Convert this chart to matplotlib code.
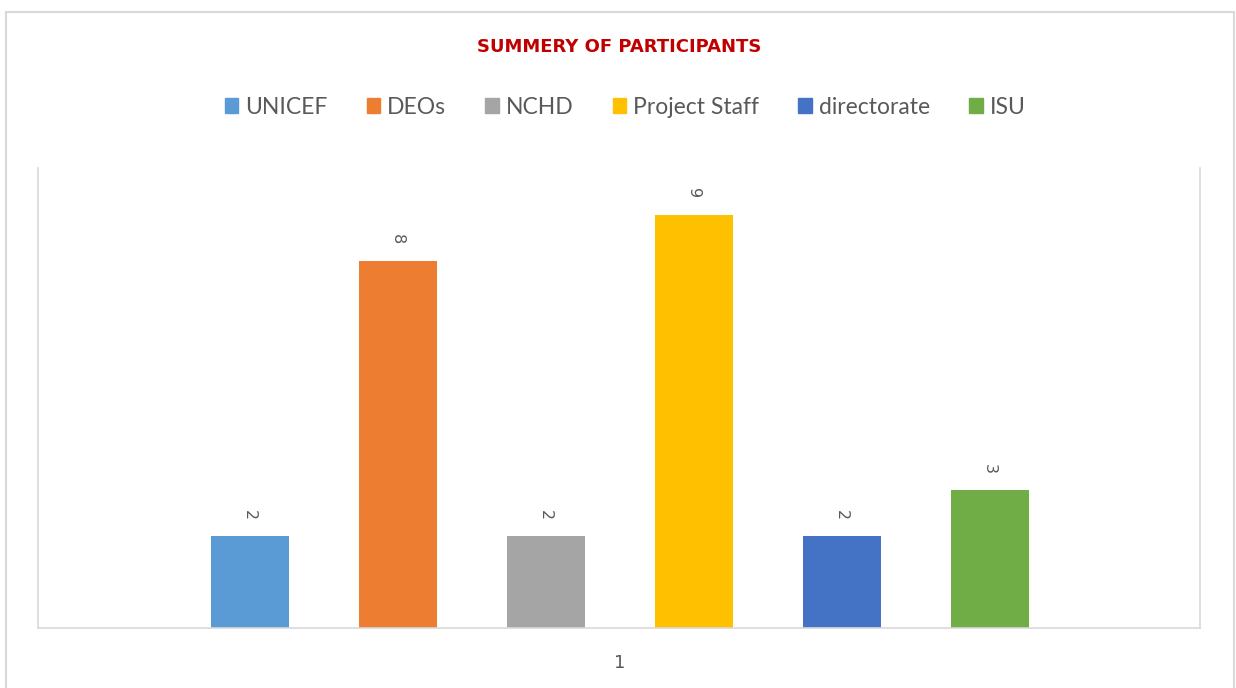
import matplotlib.pyplot as plt
from matplotlib.patches import Rectangle
import numpy as np

groups = ["UNICEF", "DEOs", "NCHD", "Project Staff", "directorate", "ISU"]
counts = [2, 8, 2, 9, 2, 3]
colors = ["#5B9BD5", "#ED7D31", "#A5A5A5", "#FFC000", "#4472C4", "#70AD47"]
category = "1"

W, H = 1236, 688
fig = plt.figure(figsize=(W / 100, H / 100), dpi=100)
fig.patch.set_facecolor("white")

# outer chart border
fig.add_artist(Rectangle((6 / W, -0.05), 1228 / W, 1 - 12 / H + 0.05,
                         transform=fig.transFigure, fill=False,
                         edgecolor="#D9D9D9", linewidth=1.5))

ax = fig.add_axes([38 / W, 1 - 628 / H, (1200 - 38) / W, (628 - 168) / H])

x = np.arange(len(groups)) - (len(groups) - 1) / 2
bars = ax.bar(x, counts, width=0.527, color=colors, label=groups)

for xi, v in zip(x, counts):
    ax.text(xi, v + 0.36, str(v), rotation=270, ha="center", va="bottom",
            fontsize=11.5, color="#595959")

ax.set_xlim(-3.93, 3.92)
ax.set_ylim(0, 10.02)
ax.set_yticks([])
ax.set_xticks([0])
ax.set_xticklabels([category], fontsize=13, color="#595959")
ax.tick_params(axis="x", length=0, pad=19)
ax.spines["top"].set_visible(False)
for s in ["left", "right", "bottom"]:
    ax.spines[s].set_color("#D9D9D9")
    ax.spines[s].set_linewidth(1.2)

fig.text(619 / W, 1 - 47 / H, "SUMMERY OF PARTICIPANTS", ha="center",
         va="center", fontsize=13, fontweight="bold", color="#C00000",
         family="DejaVu Sans")

handles = [Rectangle((0, 0), 1, 1, color=c) for c in colors]
fig.legend(handles, groups, loc="center", bbox_to_anchor=(625 / W, 1 - 107 / H),
           ncol=6, frameon=False, handlelength=0.6,
           handleheight=0.6, handletextpad=0.3, columnspacing=1.7,
           labelcolor="#595959", prop={"family": "Lato", "size": 16.5})

fig.savefig("out.png", dpi=100, facecolor="white")
